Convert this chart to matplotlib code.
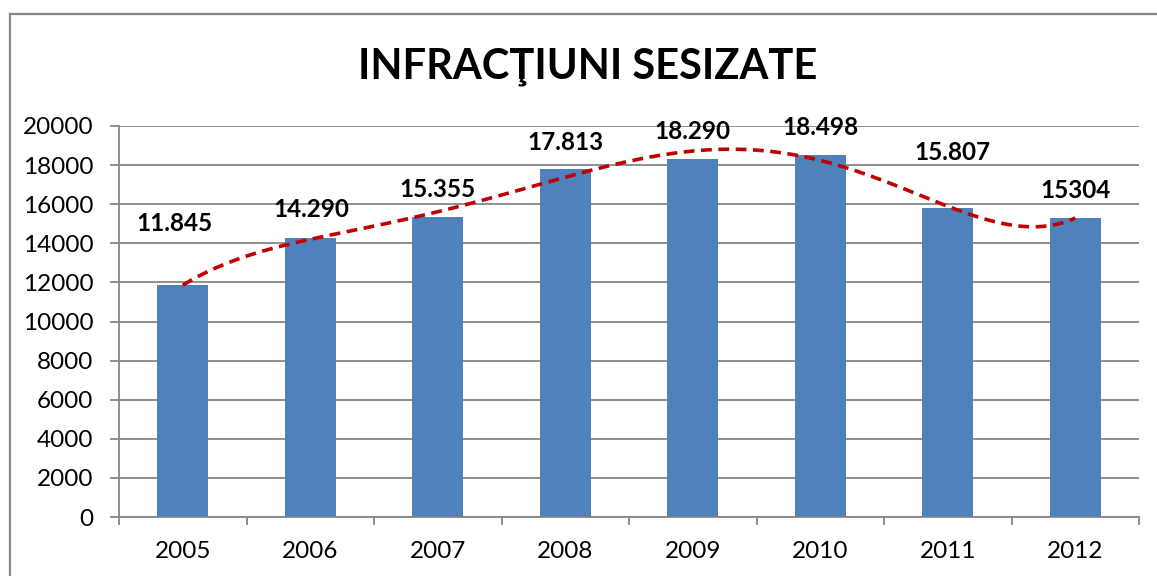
import numpy as np
import matplotlib
matplotlib.use('Agg')
import matplotlib.pyplot as plt
from matplotlib.lines import Line2D

plt.rcParams['font.family'] = ['Lato', 'DejaVu Sans']

years = ['2005', '2006', '2007', '2008', '2009', '2010', '2011', '2012']
values = [11845, 14290, 15355, 17813, 18290, 18498, 15807, 15304]
value_labels = ['11.845', '14.290', '15.355', '17.813', '18.290', '18.498', '15.807', '15304']
title = 'INFRACŢIUNI SESIZATE'

# label offsets in pixels (dx, dy above bar top)
label_offsets = [(-8, 62), (1, 28), (0, 27), (0, 26), (0, 28), (0, 28), (5, 55), (0, 27)]

fig = plt.figure(figsize=(11.57, 5.76), dpi=100)
ax = fig.add_axes([119 / 1157, 1 - 517 / 576, (1139 - 119) / 1157, (517 - 126) / 576])

x = np.arange(len(years))
ax.bar(x, values, width=0.4, color='#4F81BD', zorder=2)

# polynomial trendline (order 6), as in the original spreadsheet chart
coef = np.polyfit(x, values, 6)
xs = np.linspace(x[0], x[-1], 300)
ax.plot(xs, np.polyval(coef, xs), color='#C00000', lw=2.6, ls=(0, (3, 1.8)), zorder=3)

px = 0.72  # points per pixel at 100 dpi
for i, (v, lab) in enumerate(zip(values, value_labels)):
    dx, dy = label_offsets[i]
    ax.annotate(lab, (x[i], v), xytext=(dx * px, dy * px), textcoords='offset points',
                ha='center', va='center', fontsize=17.5, fontweight='bold', zorder=4)

ax.set_xlim(-0.5, len(years) - 0.5)
ax.set_ylim(0, 20000)
ax.set_yticks(np.arange(0, 20001, 2000))
ax.yaxis.grid(True, color='#868686', lw=1.3, zorder=0)
ax.set_axisbelow(True)

ax.set_xticks(np.arange(-0.5, len(years), 1))
ax.set_xticklabels([])
ax.set_xticks(x, minor=True)
ax.set_xticklabels(years, minor=True)
ax.tick_params(axis='x', which='major', length=6, width=1.3, color='#868686', direction='out')
ax.tick_params(axis='x', which='minor', length=0, pad=17, labelsize=17.5)
ax.tick_params(axis='y', length=6.5, width=1.3, color='#868686', pad=12, labelsize=17.5)

for s in ['top', 'right']:
    ax.spines[s].set_visible(False)
for s in ['left', 'bottom']:
    ax.spines[s].set_color('#868686')
    ax.spines[s].set_linewidth(1.3)

fig.text(588 / 1157, 1 - 79 / 576, title, ha='center', va='baseline',
         fontsize=30, fontweight='bold')

# chart area border (left and top edges visible)
fig.add_artist(Line2D([9.5 / 1157, 9.5 / 1157], [0, 1 - 14 / 576], color='#878787', lw=1.6))
fig.add_artist(Line2D([9.5 / 1157, 1], [1 - 14 / 576, 1 - 14 / 576], color='#878787', lw=1.6))

fig.savefig('out.png', dpi=100)
